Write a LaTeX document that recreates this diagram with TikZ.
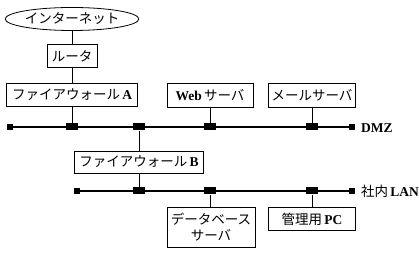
\documentclass[tikz,border=0pt]{standalone}
\usepackage{fontspec}
\setmainfont{Liberation Serif}
\newfontfamily\jp{Noto Sans CJK JP}
\usetikzlibrary{shapes.geometric}
\begin{document}
\begin{tikzpicture}[x=1pt,y=-1pt,
  box/.style={draw,line width=0.8pt,inner sep=0pt,font=\fontsize{13.5}{16}\selectfont,align=center},
  tap/.style={fill=black,inner sep=0pt,minimum width=12pt,minimum height=7pt},
  endsq/.style={fill=black,inner sep=0pt,minimum width=6pt,minimum height=6pt},
  bus/.style={line width=1.6pt},
  wire/.style={line width=0.8pt},
  lbl/.style={font=\fontsize{13.5}{16}\selectfont,anchor=west,inner sep=0pt}]
\useasboundingbox (0,0) rectangle (419,253);
% nodes
\node[box,ellipse,minimum width=132pt,minimum height=23pt] (inet) at (72,19) {\jp インターネット};
\node[box,minimum width=50pt,minimum height=23pt] (router) at (72,56) {\jp ルータ};
\node[box,minimum width=131pt,minimum height=23pt] (fwA) at (72,94.5) {{\jp ファイアウォール}\,\textbf{A}};
\node[box,minimum width=86pt,minimum height=24pt] (web) at (210,95) {\textbf{Web}\,{\jp サーバ}};
\node[box,minimum width=87pt,minimum height=24pt] (mail) at (312,95) {\jp メールサーバ};
\node[box,minimum width=129pt,minimum height=22pt] (fwB) at (139,162) {{\jp ファイアウォール}\,\textbf{B}};
\node[box,minimum width=88pt,minimum height=40pt] (db) at (211,227.5) {\jp データベース\\\jp サーバ};
\node[box,minimum width=87pt,minimum height=23pt] (pc) at (312,219) {{\jp 管理用}\,\textbf{PC}};
% DMZ bus
\node[endsq] (dmzL) at (10,127) {};
\node[endsq] (dmzR) at (352,127) {};
\draw[bus] (dmzL) -- (dmzR);
\node[tap] (tA) at (72,127) {};
\node[tap] (tB) at (139,127) {};
\node[tap] (tW) at (210,127) {};
\node[tap] (tM) at (312,127) {};
\node[lbl] (dmz) at (361,128) {\textbf{DMZ}};
% LAN bus
\node[endsq] (lanL) at (77,191) {};
\node[endsq] (lanR) at (352,191) {};
\draw[bus] (lanL) -- (lanR);
\node[tap] (lB) at (139,191) {};
\node[tap] (lD) at (210,191) {};
\node[tap] (lP) at (312,191) {};
\node[lbl] (lan) at (361,191) {{\jp 社内}\,\textbf{LAN}};
% wires
\draw[wire] (inet) -- (router);
\draw[wire] (router) -- (fwA);
\draw[wire] (fwA) -- (tA);
\draw[wire] (web) -- (tW);
\draw[wire] (mail) -- (tM);
\draw[wire] (tB) -- (fwB);
\draw[wire] (fwB) -- (lB);
\draw[wire] (lD) -- (lD |- db.north);
\draw[wire] (lP) -- (pc);
\end{tikzpicture}
\end{document}
